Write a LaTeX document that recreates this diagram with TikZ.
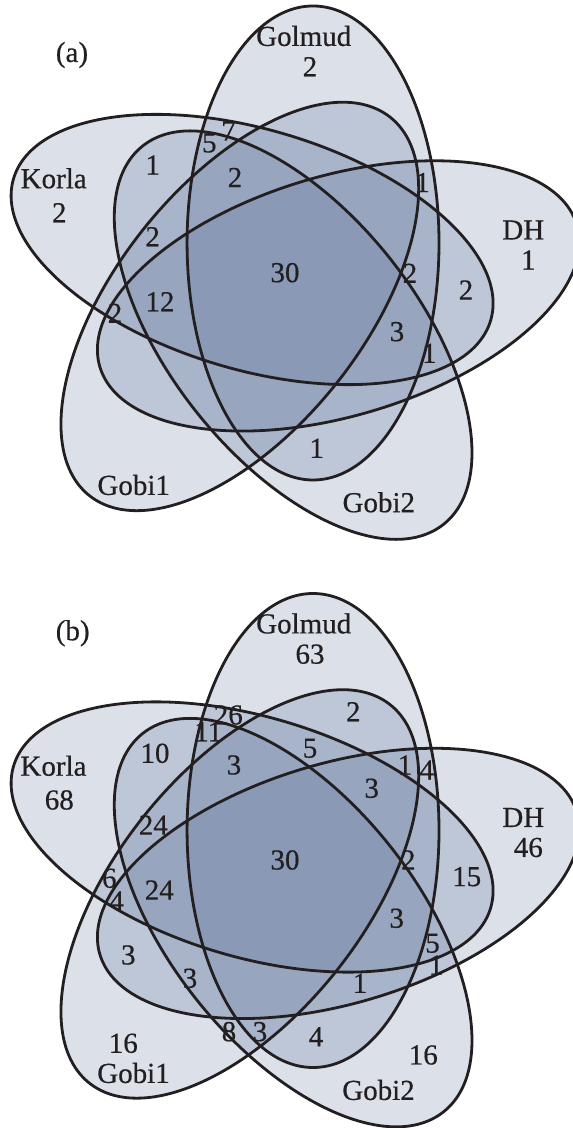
\documentclass[tikz,border=0pt]{standalone}
\usepackage{fontspec}
\setmainfont{Liberation Serif}
\newfontfamily\labfont{Liberation Serif}[FakeBold=0.5]
\definecolor{vfill}{RGB}{85,108,150}
\definecolor{vline}{RGB}{35,31,32}
\tikzset{
  vset/.style={fill=vfill, fill opacity=0.21},
  vedge/.style={draw=vline, line width=2.8pt},
  lab/.style={font=\labfont\fontsize{29}{34}\selectfont, text=vline, inner sep=0pt, anchor=center},
}
\newcommand{\fivesets}{%
  \foreach \k in {0,...,4}
    \fill[vset, rotate=72*\k] (24.4,43) ellipse [x radius=119.4, y radius=237];
  \foreach \k in {0,...,4}
    \draw[vedge, rotate=72*\k] (24.4,43) ellipse [x radius=119.4, y radius=237];
}
\begin{document}
\begin{tikzpicture}[x=1pt,y=1pt]
\useasboundingbox (0,0) rectangle (573,1128);
% ---------- panel (a)
\begin{scope}[shift={(287.3,842)}, xscale=1.055]
  \fivesets
\end{scope}
\begin{scope}[shift={(0,1128)}, yscale=-1]
  \node[lab] (pa) at (72,55) {(a)};
  \node[lab] (aGol) at (303.7,36) {Golmud};
  \node[lab] (aGoln) at (310,66.7) {2};
  \node[lab] (aKor) at (53.7,178.3) {Korla};
  \node[lab] (aKorn) at (59.3,212.7) {2};
  \node[lab] (aDH) at (523.3,230) {DH};
  \node[lab] (aDHn) at (528.3,260) {1};
  \node[lab] (aGa) at (133.7,485) {Gobi1};
  \node[lab] (aGb) at (378.8,502.3) {Gobi2};
  \node[lab] (a30) at (285,272.7) {30};
  \node[lab] (a1) at (152.7,165) {1};
  \node[lab] (a2) at (209.3,143) {5};
  \node[lab] (a3) at (228.5,131) {7};
  \node[lab] (a4) at (235,177.5) {2};
  \node[lab] (a5) at (152.7,236.7) {2};
  \node[lab] (a6) at (160,301.7) {12};
  \node[lab] (a7) at (115,313.3) {2};
  \node[lab] (a8) at (422.5,182.5) {1};
  \node[lab] (a9) at (410,273.3) {2};
  \node[lab] (a10) at (466,290) {2};
  \node[lab] (a11) at (397,331.7) {3};
  \node[lab] (a12) at (429.3,353.3) {1};
  \node[lab] (a13) at (316.7,448.3) {1};
\end{scope}
% ---------- panel (b)
\begin{scope}[shift={(287.3,254.5)}, xscale=1.055]
  \fivesets
\end{scope}
\begin{scope}[shift={(0,1128)}, yscale=-1]
  \node[lab] (pb) at (72.7,633.3) {(b)};
  \node[lab] (bGol) at (303.7,623.5) {Golmud};
  \node[lab] (bGoln) at (310,654.2) {63};
  \node[lab] (bKor) at (53.5,765.8) {Korla};
  \node[lab] (bKorn) at (59.3,800) {68};
  \node[lab] (bDH) at (523.3,817.5) {DH};
  \node[lab] (bDHn) at (528.3,847.5) {46};
  \node[lab] (bGa) at (133.5,1073) {Gobi1};
  \node[lab] (bGan) at (123.3,1043.3) {16};
  \node[lab] (bGb) at (378.5,1090) {Gobi2};
  \node[lab] (bGbn) at (423.3,1055) {16};
  \node[lab] (b30) at (285,860) {30};
  \node[lab] (b1) at (228.3,715) {26};
  \node[lab] (b2) at (208.3,731.7) {11};
  \node[lab] (b3) at (155,753.3) {10};
  \node[lab] (b4) at (234,765) {3};
  \node[lab] (b5) at (153.3,825) {24};
  \node[lab] (b6) at (109.3,878.3) {6};
  \node[lab] (b7) at (116.7,901) {4};
  \node[lab] (b8) at (159.3,890) {24};
  \node[lab] (b9) at (353.3,711.7) {2};
  \node[lab] (b10) at (310,748.3) {5};
  \node[lab] (b11) at (405,765) {1};
  \node[lab] (b12) at (426.7,770) {4};
  \node[lab] (b13) at (371.7,788.3) {3};
  \node[lab] (b14) at (408.3,860) {2};
  \node[lab] (b15) at (466.7,876.7) {15};
  \node[lab] (b16) at (396.7,918.3) {3};
  \node[lab] (b17) at (432.5,943.3) {5};
  \node[lab] (b18) at (436,965) {1};
  \node[lab] (b19) at (360,983.3) {1};
  \node[lab] (b20) at (128.3,955) {3};
  \node[lab] (b21) at (190,978.3) {3};
  \node[lab] (b22) at (229,1031.7) {8};
  \node[lab] (b23) at (260,1031.7) {3};
  \node[lab] (b24) at (316,1036.7) {4};
\end{scope}
\end{tikzpicture}
\end{document}
